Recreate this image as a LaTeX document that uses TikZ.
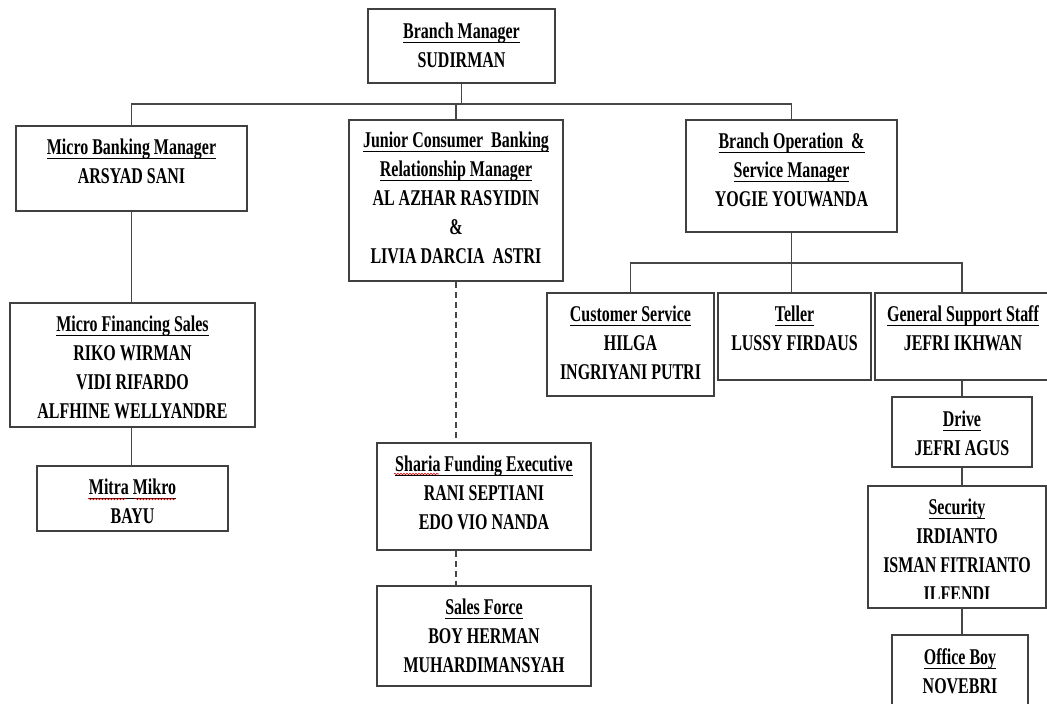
\documentclass[tikz,border=0pt]{standalone}
\usepackage{fontspec}
\setmainfont{Liberation Serif}[FakeStretch=0.71]
\usetikzlibrary{fit,decorations.pathmorphing}
\newsavebox{\ulbox}
\newcommand{\ul}[1]{\sbox{\ulbox}{#1}\rlap{\rule[-4.8pt]{\wd\ulbox}{1.5pt}}\usebox{\ulbox}}
\newcommand{\fl}{\rule{0pt}{16pt}}
\begin{document}
\begin{tikzpicture}[x=1pt,y=-1pt,
  box/.style={draw=black!75, line width=1.8pt, inner sep=0pt, fill=white},
  ln/.style={draw=black!72, line width=1.8pt},
  dsh/.style={draw=black!72, line width=1.4pt, dash pattern=on 6pt off 4pt},
  txt/.style={inner sep=0pt, align=center, anchor=north,
    font=\fontsize{22.5}{29}\selectfont\bfseries},
  sq/.style={draw=red!85!black, line width=0.6pt, decorate,
    decoration={snake, amplitude=0.8pt, segment length=3pt}}]
\useasboundingbox[fill=white] (0,0) rectangle (1047,704);

% boxes
\node[box, fit={(368,9) (555,83)}] (bm) {};
\node[box, fit={(16,126) (247,211)}] (mbm) {};
\node[box, fit={(349,120) (563,281)}] (jr) {};
\node[box, fit={(686,120) (897,232)}] (bo) {};
\node[box, fit={(10,303) (255,427)}] (mfs) {};
\node[box, fit={(37,466) (228,531)}] (mm) {};
\node[box, fit={(377,443) (591,550)}] (sh) {};
\node[box, fit={(377,586) (591,686)}] (sf) {};
\node[box, fit={(547,293) (714,396)}] (cs) {};
\node[box, fit={(718,293) (871,380)}] (tl) {};
\node[box, fit={(875,293) (1049,380)}] (gss) {};
\node[box, fit={(892,397) (1032,467)}] (dr) {};
\node[box, fit={(868,486) (1046,608)}] (sec) {};
\node[box, fit={(892,635) (1028,730)}] (ob) {};

% texts
\node[txt] (bmt) at ([yshift=-14pt]bm.north) {\fl\ul{Branch Manager}\\SUDIRMAN};
\node[txt] (mbmt) at ([yshift=-13pt]mbm.north) {\fl\ul{Micro Banking Manager}\\ARSYAD SANI};
\node[txt] (jrt) at ([yshift=-12pt]jr.north) {\fl\ul{Junior Consumer\ \ Banking}\\\ul{Relationship Manager}\\AL AZHAR RASYIDIN\\\&\\LIVIA DARCIA\ \ ASTRI};
\node[txt] (bot) at ([yshift=-13pt]bo.north) {\fl\ul{Branch Operation\ \ \&}\\\ul{Service Manager}\\YOGIE YOUWANDA};
\node[txt] (mfst) at ([yshift=-13pt]mfs.north) {\fl\ul{Micro Financing Sales}\\RIKO WIRMAN\\VIDI RIFARDO\\ALFHINE WELLYANDRE};
\node[txt] (mmt) at ([yshift=-13pt]mm.north) {\fl\ul{Mitra Mikro}\\BAYU};
\node[txt] (sht) at ([yshift=-13pt]sh.north) {\fl\ul{Sharia Funding Executive}\\RANI SEPTIANI\\EDO VIO NANDA};
\node[txt] (sft) at ([yshift=-13pt]sf.north) {\fl\ul{Sales Force}\\BOY HERMAN\\MUHARDIMANSYAH};
\node[txt] (cst) at ([yshift=-13pt]cs.north) {\fl\ul{Customer Service}\\HILGA\\INGRIYANI PUTRI};
\node[txt] (tlt) at ([yshift=-13pt]tl.north) {\fl\ul{Teller}\\LUSSY FIRDAUS};
\node[txt] (gsst) at ([yshift=-13pt,xshift=1pt]gss.north) {\fl\ul{General Support Staff}\\JEFRI IKHWAN};
\node[txt] (drt) at ([yshift=-14pt]dr.north) {\fl\ul{Drive}\\JEFRI AGUS};
\begin{scope}
\clip (868,486) rectangle (1046,598.5);
\node[txt] (sect) at ([yshift=-13pt]sec.north) {\fl\ul{Security}\\IRDIANTO\\ISMAN FITRIANTO\\ILFENDI};
\end{scope}
\node[txt] (obt) at ([yshift=-14pt]ob.north) {\fl\ul{Office Boy}\\NOVEBRI};

% spell-check squiggles
\draw[sq] (88,499) -- (126,499);
\draw[sq] (135,499) -- (175,499);
\draw[sq] (394,474) -- (439,474);

% connectors
\path (bm.south) ++(0,20) coordinate (bus1);
\draw[ln] (bm.south) -- (bus1);
\draw[ln] (mbm.north) |- (bus1);
\draw[ln] (bo.north) |- (bus1);
\draw[ln] (jr.north) -- (jr.north |- bus1);

\draw[ln] (mbm.south) -- (mbm.south |- mfs.north);
\draw[ln] (mbm.south |- mfs.south) -- (mbm.south |- mm.north);

\draw[dsh] (jr.south) -- (jr.south |- sh.north);
\draw[dsh] (jr.south |- sh.south) -- (jr.south |- sf.north);

\path (bo.south) ++(0,30) coordinate (bus2);
\draw[ln] (bo.south) -- (bus2);
\draw[ln] (bus2) -- (bus2 |- tl.north);
\draw[ln] (cs.north) |- (bus2);
\draw[ln] (gss.north) |- (bus2);

\draw[ln] (gss.south) -- (gss.south |- dr.north);
\draw[ln] (gss.south |- dr.south) -- (gss.south |- sec.north);
\draw[ln] (gss.south |- sec.south) -- (gss.south |- ob.north);
\end{tikzpicture}
\end{document}
